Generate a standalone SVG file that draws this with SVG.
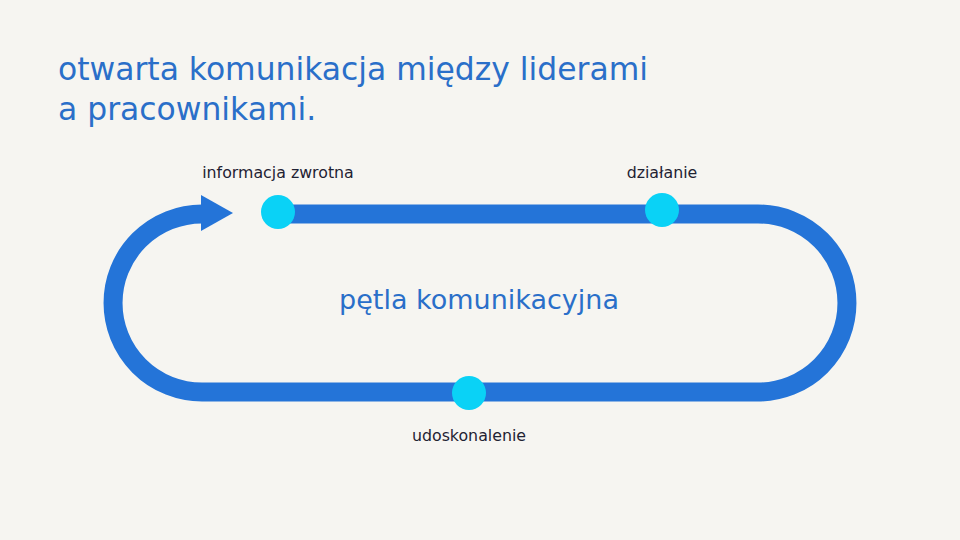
<svg xmlns="http://www.w3.org/2000/svg" width="960" height="540" viewBox="0 0 960 540">
<style>
.title{font-family:"DejaVu Sans",sans-serif;font-size:31.4px;fill:#2a6fc9}
.center{font-family:"DejaVu Sans",sans-serif;font-size:27px;fill:#2a6fc9;text-anchor:middle}
.lbl{font-family:"DejaVu Sans",sans-serif;font-size:15.8px;fill:#1f2233;text-anchor:middle}
.loop{fill:none;stroke:#2474d8;stroke-width:19}
.dot{fill:#0ad2f6}
</style>
<rect width="960" height="540" fill="#f6f5f1"/>
<g id="title">
<text class="title" x="58" y="80">otwarta komunikacja między liderami</text>
<text class="title" x="58" y="120">a pracownikami.</text>
</g>
<g id="connectors">
<path class="loop" d="M278 214 H758 A89 89 0 0 1 758 392 H202 A89 89 0 0 1 202 214"/>
<polygon points="201,195 233,213 201,231" fill="#2474d8"/>
</g>
<g id="center-label"><text class="center" x="479" y="309">pętla komunikacyjna</text></g>
<g id="node-informacja">
<circle class="dot" cx="278" cy="212" r="17"/>
<text class="lbl" x="278" y="178">informacja zwrotna</text>
</g>
<g id="node-dzialanie">
<circle class="dot" cx="662" cy="210" r="17"/>
<text class="lbl" x="662" y="178">działanie</text>
</g>
<g id="node-udoskonalenie">
<circle class="dot" cx="469" cy="393" r="17"/>
<text class="lbl" x="469" y="441">udoskonalenie</text>
</g>
</svg>
